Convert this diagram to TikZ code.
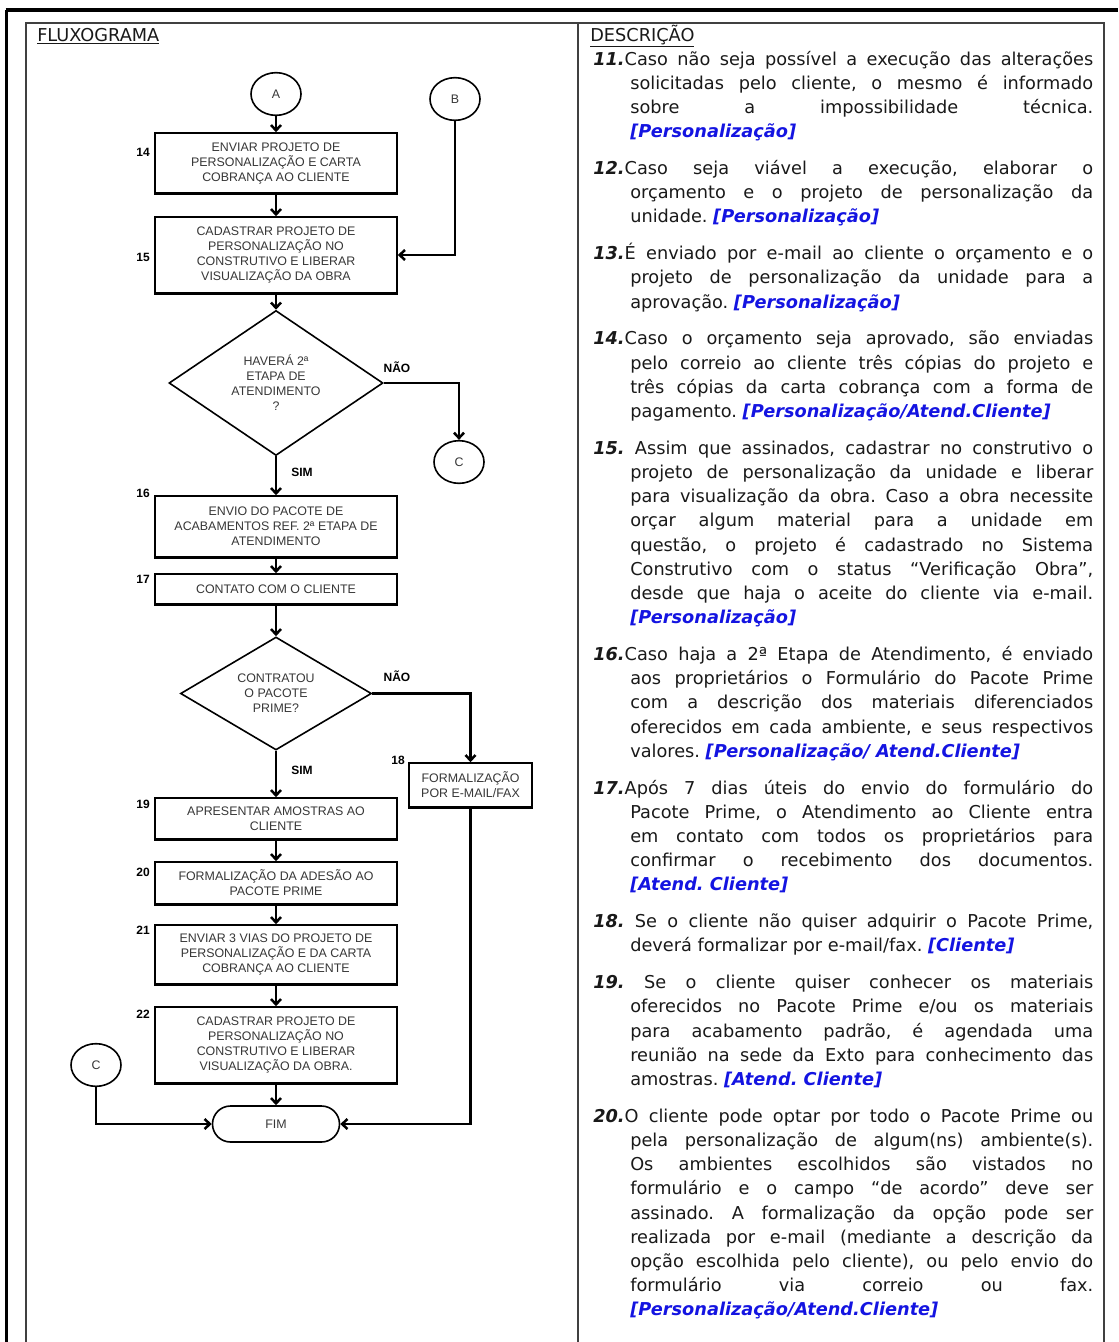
\documentclass[tikz,border=0pt]{standalone}
\usepackage{fontspec}
\setmainfont{DejaVu Sans}[BoldFont={DejaVu Sans Bold},ItalicFont={DejaVu Sans Oblique},BoldItalicFont={DejaVu Sans Bold Oblique}]
\newfontfamily\arialf{Liberation Sans}
\usetikzlibrary{arrows.meta,shapes.geometric}
\definecolor{tagblue}{RGB}{20,20,225}
\definecolor{fctext}{RGB}{55,55,55}
\definecolor{bodyc}{RGB}{25,25,25}
\newcommand{\tg}[1]{\textcolor{tagblue}{\bfseries\itshape #1}}
\newcommand{\nb}[1]{{\bfseries\itshape #1}}
\newcommand{\dpara}[1]{\par\hangindent=27.75pt\hangafter=1\noindent\strut #1\par}
\begin{document}
\begin{tikzpicture}[x=0.75pt,y=-0.75pt,
 fc/.style={font=\arialf\fontsize{9.3}{11.25}\selectfont, text=fctext},
 pbox/.style={fc, draw=black, line width=1.2pt, fill=white, align=center, inner sep=0pt, minimum width=181.5pt},
 dec/.style={fc, draw=black, line width=1.2pt, shape=diamond, align=center, inner sep=0pt},
 conn/.style={fc, draw=black, line width=1.2pt, shape=ellipse, minimum width=37.5pt, minimum height=32pt, inner sep=0pt},
 lbl/.style={font=\arialf\bfseries\fontsize{9}{10}\selectfont, inner sep=0pt},
 link/.style={line width=1.9pt, draw=black, -{Straight Barb[length=4pt,width=7.5pt]}},
]
\useasboundingbox (0,0) rectangle (1118,1342);
% frame
\draw[line width=2.4pt] (5.5,10) -- (1118,10);
\draw[line width=1.6pt] (6.5,10) -- (6.5,1342);
\draw[line width=1.1pt, black!75] (26,1342) -- (26,23) -- (1104,23) -- (1104,1342);
\draw[line width=1.1pt, black!75] (578,23) -- (578,1342);

% headings
\node[anchor=base west, inner sep=0pt, font=\fontsize{13.3}{16}\selectfont, text=bodyc] (hflux) at (37,41) {\underline{FLUXOGRAMA}};
\node[anchor=base west, inner sep=0pt, font=\fontsize{13.3}{16}\selectfont, text=bodyc] (hdesc) at (590,41) {\underline{DESCRIÇÃO}};

% flowchart nodes
\node[conn] (A) at (276,94) {A};
\node[conn] (B) at (455,99) {B};
\node[pbox, minimum height=45pt] (b14) at (276,163) {ENVIAR PROJETO DE\\PERSONALIZAÇÃO E CARTA\\COBRANÇA AO CLIENTE};
\node[pbox, minimum height=57pt] (b15) at (276,255) {CADASTRAR PROJETO DE\\PERSONALIZAÇÃO NO\\CONSTRUTIVO E LIBERAR\\VISUALIZAÇÃO DA OBRA};
\node[dec, shape aspect=1.5, minimum width=160.5pt, minimum height=108.75pt] (d1) at (276,383) {HAVERÁ 2ª\\ETAPA DE\\ATENDIMENTO\\?};
\node[conn] (Cr) at (459,462) {C};
\node[pbox, minimum height=45.75pt] (b16) at (276,526.5) {ENVIO DO PACOTE DE\\ACABAMENTOS REF. 2ª ETAPA DE\\ATENDIMENTO};
\node[pbox, minimum height=22.5pt] (b17) at (276,589) {CONTATO COM O CLIENTE};
\node[dec, shape aspect=1.7, minimum width=143.25pt, minimum height=84.75pt] (d2) at (276,693.5) {CONTRATOU\\O PACOTE\\PRIME?};
\node[pbox, minimum width=92.25pt, minimum height=33pt] (b18) at (470.5,785) {FORMALIZAÇÃO\\POR E-MAIL/FAX};
\node[pbox, minimum height=30.75pt] (b19) at (276,818.5) {APRESENTAR AMOSTRAS AO\\CLIENTE};
\node[pbox, minimum height=31.5pt] (b20) at (276,883) {FORMALIZAÇÃO DA ADESÃO AO\\PACOTE PRIME};
\node[pbox, minimum height=44.25pt] (b21) at (276,954.5) {ENVIAR 3 VIAS DO PROJETO DE\\PERSONALIZAÇÃO E DA CARTA\\COBRANÇA AO CLIENTE};
\node[pbox, minimum height=57pt] (b22) at (276,1045) {CADASTRAR PROJETO DE\\PERSONALIZAÇÃO NO\\CONSTRUTIVO E LIBERAR\\VISUALIZAÇÃO DA OBRA.};
\node[fc, draw=black, line width=1.2pt, rounded corners=13.5pt, minimum width=95.25pt, minimum height=27pt, inner sep=0pt] (fim) at (276,1124) {FIM};
\node[conn] (Cl) at (96,1065) {C};

\foreach \n in {b14,b15,b16,b17,b18,b19,b20,b21,b22}
  \draw[line width=2.4pt] (\n.south west) -- (\n.south east);

% labels
\node[lbl, anchor=east] (l14) at (150,152) {14};
\node[lbl, anchor=east] (l15) at (150,257) {15};
\node[lbl, anchor=east] (l16) at (150,493) {16};
\node[lbl, anchor=east] (l17) at (150,579) {17};
\node[lbl, anchor=east] (l18) at (405,760) {18};
\node[lbl, anchor=east] (l19) at (150,804) {19};
\node[lbl, anchor=east] (l20) at (150,872) {20};
\node[lbl, anchor=east] (l21) at (150,930) {21};
\node[lbl, anchor=east] (l22) at (150,1014) {22};
\node[lbl] (sim1) at (302,472) {SIM};
\node[lbl] (nao1) at (397,367) {NÃO};
\node[lbl] (sim2) at (302,770) {SIM};
\node[lbl] (nao2) at (397,676) {NÃO};

% connectors
\draw[link] (A) -- (b14);
\draw[link] (b14) -- (b15);
\draw[link] (B.south) |- (b15.east);
\draw[link] (b15) -- (d1.north);
\draw[link] (d1.east) -| (Cr.north);
\draw[link] (d1.south) -- (b16);
\draw[link] (b16) -- (b17);
\draw[link] (b17) -- (d2.north);
\draw[link] (d2.east) -| (b18.north);
\draw[link] (d2.south) -- (b19);
\draw[link] (b19) -- (b20);
\draw[link] (b20) -- (b21);
\draw[link] (b21) -- (b22);
\draw[link] (b22) -- (fim);
\draw[link] (b18.south) |- (fim.east);
\draw[link] (Cl.south) |- (fim.west);

% description
\node[anchor=north west, inner sep=0pt, text width=375pt, align=justify, font=\fontsize{13.3}{18.15}\selectfont, text=bodyc] (desc) at (593,28) {%
\parskip=9.45pt \tolerance=10000 \hbadness=10000 \hyphenpenalty=10000 \exhyphenpenalty=10000 \frenchspacing
\dpara{\nb{11.}Caso não seja possível a execução das alterações\linebreak solicitadas pelo cliente, o mesmo é informado\linebreak sobre a impossibilidade técnica.\linebreak \tg{[Personalização]}}
\dpara{\nb{12.}Caso seja viável a execução, elaborar o\linebreak orçamento e o projeto de personalização da\linebreak unidade. \tg{[Personalização]}}
\dpara{\nb{13.}É enviado por e-mail ao cliente o orçamento e o\linebreak projeto de personalização da unidade para a\linebreak aprovação. \tg{[Personalização]}}
\dpara{\nb{14.}Caso o orçamento seja aprovado, são enviadas\linebreak pelo correio ao cliente três cópias do projeto e\linebreak três cópias da carta cobrança com a forma de\linebreak pagamento. \tg{[Personalização/Atend.Cliente]}}
\dpara{\nb{15.} Assim que assinados, cadastrar no construtivo o\linebreak projeto de personalização da unidade e liberar\linebreak para visualização da obra. Caso a obra necessite\linebreak orçar algum material para a unidade em\linebreak questão, o projeto é cadastrado no Sistema\linebreak Construtivo com o status “Verificação Obra”,\linebreak desde que haja o aceite do cliente via e-mail.\linebreak \tg{[Personalização]}}
\dpara{\nb{16.}Caso haja a 2ª Etapa de Atendimento, é enviado\linebreak aos proprietários o Formulário do Pacote Prime\linebreak com a descrição dos materiais diferenciados\linebreak oferecidos em cada ambiente, e seus respectivos\linebreak valores. \tg{[Personalização/ Atend.Cliente]}}
\dpara{\nb{17.}Após 7 dias úteis do envio do formulário do\linebreak Pacote Prime, o Atendimento ao Cliente entra\linebreak em contato com todos os proprietários para\linebreak confirmar o recebimento dos documentos.\linebreak \tg{[Atend. Cliente]}}
\dpara{\nb{18.} Se o cliente não quiser adquirir o Pacote Prime,\linebreak deverá formalizar por e-mail/fax. \tg{[Cliente]}}
\dpara{\nb{19.} Se o cliente quiser conhecer os materiais\linebreak oferecidos no Pacote Prime e/ou os materiais\linebreak para acabamento padrão, é agendada uma\linebreak reunião na sede da Exto para conhecimento das\linebreak amostras. \tg{[Atend. Cliente]}}
\dpara{\nb{20.}O cliente pode optar por todo o Pacote Prime ou\linebreak pela personalização de algum(ns) ambiente(s).\linebreak Os ambientes escolhidos são vistados no\linebreak formulário e o campo “de acordo” deve ser\linebreak assinado. A formalização da opção pode ser\linebreak realizada por e-mail (mediante a descrição da\linebreak opção escolhida pelo cliente), ou pelo envio do\linebreak formulário via correio ou fax.\linebreak \tg{[Personalização/Atend.Cliente]}}
};
\end{tikzpicture}
\end{document}
